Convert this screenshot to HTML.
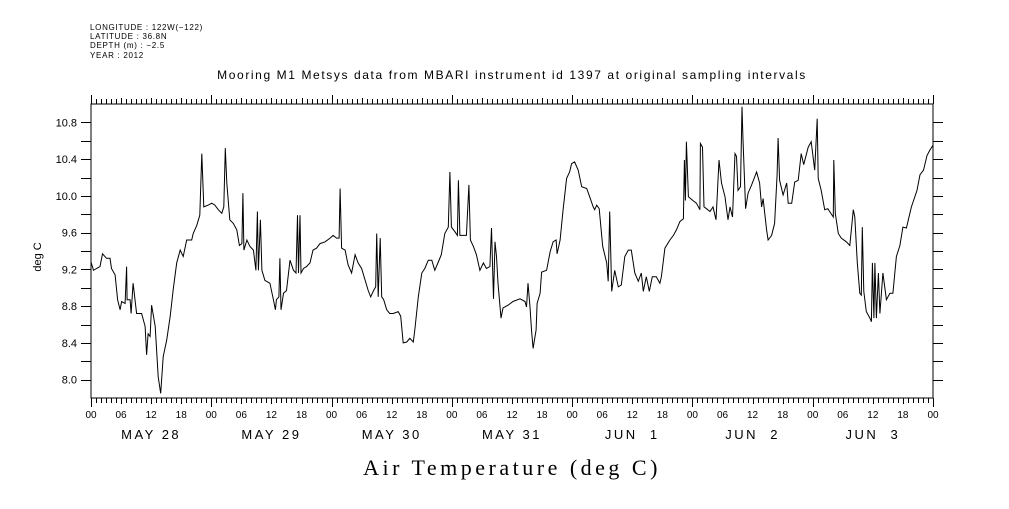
<!DOCTYPE html>
<html><head><meta charset="utf-8"><style>
body{margin:0;background:#fff;}
svg text{font-family:"Liberation Sans",sans-serif;fill:#000;}
</style></head><body>
<svg id="chart" width="1009" height="504" xmlns="http://www.w3.org/2000/svg">
<g font-size="8" letter-spacing="0.7">
<text x="90" y="30">LONGITUDE : 122W(−122)</text>
<text x="90" y="39">LATITUDE : 36.8N</text>
<text x="90" y="48">DEPTH (m) : −2.5</text>
<text x="90" y="58">YEAR : 2012</text>
</g>
<text x="512" y="79" font-size="12" letter-spacing="1.6" text-anchor="middle">Mooring M1 Metsys data from MBARI instrument id 1397 at original sampling intervals</text>
<text x="0" y="0" font-size="11" text-anchor="middle" transform="translate(41,257) rotate(-90)">deg C</text>
<text x="512" y="475" font-size="22" letter-spacing="3.5" text-anchor="middle" style="font-family:'Liberation Serif',serif">Air Temperature (deg C)</text>
<g id="axes"></g>
<path id="series" fill="none" stroke="#000" stroke-width="1"/>
</svg>
<script>
const hours=[0,0.5,1.1,1.8,2.3,3.1,3.8,4.1,4.8,5.3,5.8,6.1,6.8,7.1,7.2,7.8,8.0,8.4,9.1,10.1,10.8,11.1,11.4,11.8,12.1,12.8,13.4,13.9,14.4,15.1,15.8,16.4,17.1,17.8,18.4,19.1,20.1,20.4,21.1,21.7,22.1,22.3,22.5,23.4,24.1,24.7,25.4,26.1,26.5,26.8,27.1,27.7,28.4,29.1,29.6,30.1,30.3,30.5,31.1,31.7,32.4,32.9,33.2,33.4,33.8,34.1,34.7,35.7,36.4,36.8,37.0,37.5,37.7,37.9,38.4,39.0,39.7,40.4,40.9,41.2,41.4,41.7,41.9,42.4,43.0,43.7,44.3,45.0,45.7,46.7,47.7,48.3,49.0,49.5,49.7,50.0,50.7,51.3,52.0,52.7,53.3,54.0,54.7,55.3,55.8,56.3,56.8,57.0,57.3,57.7,58.0,58.4,59.0,59.6,60.3,61.3,61.8,62.3,63.0,63.6,64.3,64.6,65.3,66.0,66.6,67.3,68.0,68.6,69.3,69.9,70.6,71.3,71.6,71.9,72.6,73.1,73.3,73.6,74.3,74.9,75.4,75.7,76.3,76.9,77.6,78.3,78.9,79.6,79.9,80.3,80.6,80.9,81.2,81.8,82.2,83.2,84.2,85.6,86.6,86.9,87.2,87.6,87.9,88.2,88.8,89.0,89.6,89.9,90.9,91.6,92.2,92.8,93.0,93.6,94.2,94.9,95.5,95.9,96.5,97.2,97.9,98.9,99.5,100.2,100.5,100.9,101.4,102.1,102.9,103.2,103.5,103.9,104.5,105.2,105.8,106.5,107.2,107.8,108.5,109.2,109.8,110.2,110.8,111.4,112.0,112.8,113.5,113.8,114.5,115.5,116.2,116.8,117.5,118.2,118.4,118.6,118.8,119.2,120.1,120.8,121.5,121.6,122.0,122.3,122.8,123.5,124.1,124.7,124.9,125.3,125.8,126.5,127.1,127.5,128.0,128.5,128.8,129.1,129.6,129.9,130.1,130.6,131.1,131.8,132.8,133.4,133.8,134.1,134.8,135.1,135.8,136.4,136.9,137.1,137.4,138.1,138.8,139.1,139.8,140.4,141.1,141.7,142.2,143.1,143.7,144.4,144.9,145.1,145.7,146.4,147.0,148.1,148.2,148.5,149.1,149.7,150.7,151.4,152.1,152.4,152.9,153.4,153.7,153.9,154.2,154.7,155.4,155.7,155.9,156.2,156.4,156.7,157.1,157.4,158.0,158.7,159.4,160.0,160.7,161.4,162.0,162.7,163.7,164.8,165.4,166.1,166.8,167.4,168.0];
const temps=[9.28,9.19,9.21,9.23,9.37,9.32,9.32,9.21,9.14,8.87,8.76,8.85,8.83,9.23,8.87,8.87,8.72,9.05,8.72,8.72,8.58,8.27,8.50,8.47,8.81,8.58,8.03,7.85,8.25,8.43,8.69,8.98,9.27,9.41,9.34,9.52,9.52,9.59,9.68,9.79,10.46,10.17,9.88,9.90,9.92,9.90,9.85,9.81,9.88,10.52,10.14,9.74,9.70,9.63,9.46,9.48,10.03,9.41,9.52,9.45,9.41,9.19,9.83,9.19,9.74,9.19,9.08,9.05,8.87,8.76,8.87,8.90,9.32,8.76,8.94,8.97,9.30,9.19,9.16,9.79,9.16,9.79,9.16,9.21,9.23,9.27,9.41,9.43,9.48,9.50,9.54,9.57,9.54,9.54,10.08,9.43,9.41,9.25,9.16,9.36,9.27,9.21,9.08,8.97,8.90,8.96,9.01,9.59,8.90,9.54,8.90,8.87,8.76,8.72,8.72,8.74,8.69,8.40,8.41,8.45,8.41,8.54,8.90,9.16,9.21,9.30,9.30,9.19,9.28,9.36,9.59,9.66,10.26,9.66,9.61,9.57,10.17,9.57,9.57,9.57,10.12,9.52,9.45,9.36,9.19,9.27,9.21,9.23,9.65,8.88,9.50,9.34,9.05,8.67,8.78,8.81,8.85,8.88,8.85,8.79,9.05,8.79,8.54,8.34,8.54,8.83,8.94,9.17,9.19,9.39,9.50,9.52,9.37,9.52,9.85,10.19,10.26,10.35,10.37,10.28,10.10,10.08,9.99,9.88,9.85,9.90,9.86,9.45,9.27,9.07,9.83,8.96,9.19,9.01,9.03,9.34,9.41,9.41,9.16,9.07,9.16,8.96,9.12,8.96,9.12,9.12,9.05,9.12,9.43,9.52,9.57,9.63,9.72,9.75,10.39,9.95,10.59,9.99,9.95,9.92,9.85,10.57,10.53,9.88,9.86,9.83,9.88,9.74,9.95,10.39,10.14,9.99,9.74,9.88,9.77,10.46,10.43,10.06,10.10,10.97,10.61,9.86,10.03,10.12,10.26,10.14,9.88,9.97,9.63,9.52,9.57,9.70,10.23,10.63,10.17,10.01,10.14,9.92,9.92,10.15,10.17,10.46,10.34,10.53,10.59,10.28,10.84,10.19,10.06,9.85,9.86,9.77,10.39,9.81,9.59,9.54,9.50,9.46,9.85,9.77,9.27,8.94,8.92,9.66,8.96,8.74,8.67,8.63,9.27,8.67,9.27,8.67,9.16,8.72,9.16,8.87,8.94,8.94,9.34,9.46,9.66,9.65,9.88,10.06,10.23,10.28,10.44,10.50,10.55];
const yTickLabels=["8.0","8.4","8.8","9.2","9.6","10.0","10.4","10.8"];
const hourLabels=["00","06","12","18"];
const dayLabels=["MAY 28","MAY 29","MAY 30","MAY 31","JUN  1","JUN  2","JUN  3"];

const X0=91,X1=933,Y0=398,Y1=104,HMAX=168,VMIN=7.8,VMAX=11.0;
const xs=h=>X0+(X1-X0)*h/HMAX;
const ys=v=>Y0-(Y0-Y1)*(v-VMIN)/(VMAX-VMIN);
const NS="http://www.w3.org/2000/svg";
const axes=document.getElementById('axes');
function mk(tag,attrs,parent){const e=document.createElementNS(NS,tag);for(const k in attrs)e.setAttribute(k,attrs[k]);(parent||axes).appendChild(e);return e;}
let d=`M${X0} ${Y1}H${X1}V${Y0}H${X0}Z`;
for(let h=0;h<=HMAX;h++){const x=xs(h)+0.5|0;const L=(h%24===0)?9:(h%6===0?6:5);d+=`M${x+0.5} ${Y0}v${L}M${x+0.5} ${Y1}v${-L}`;}
for(let i=0;i<=14;i++){const v=8.0+i*0.2;const y=Math.round(ys(v))+0.5;d+=`M${X0-10} ${y}H${X0}M${X1} ${y}H${X1+10}`;}
const frame=mk('path',{d:d,fill:'none',stroke:'#000','stroke-width':1,'shape-rendering':'crispEdges'});


yTickLabels.forEach(t=>{const e=mk('text',{x:X0-14,y:ys(parseFloat(t))+4,'font-size':11,'text-anchor':'end'});e.textContent=t;

});
for(let dd=0;dd<=7;dd++){for(let k=0;k<4;k++){if(dd===7&&k>0)break;const e=mk('text',{x:xs(dd*24+k*6),y:418,'font-size':10,'text-anchor':'middle'});e.textContent=hourLabels[k];

}}
dayLabels.forEach((t,i)=>{const e=mk('text',{x:xs(i*24+12),y:439,'font-size':13,'text-anchor':'middle','letter-spacing':'2.5'});e.style.whiteSpace='pre';e.textContent=t;

});
document.getElementById('series').setAttribute('d',hours.map((h,i)=>(i?'L':'M')+xs(h).toFixed(1)+' '+ys(temps[i]).toFixed(1)).join(''));
</script>
</body></html>
